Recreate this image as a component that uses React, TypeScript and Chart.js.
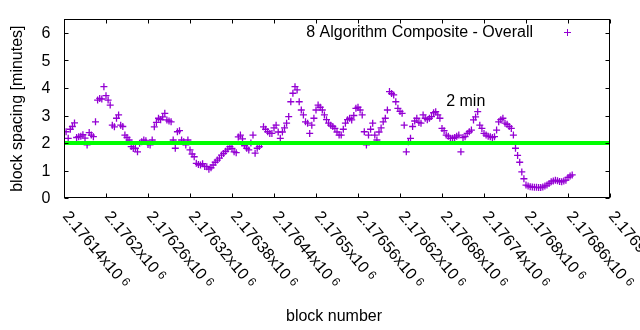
import React, { useEffect, useRef } from "react";
import { Chart, registerables } from "chart.js";

Chart.register(...registerables);

// ---- data ----
const firstBlock = 2176143;
const blockStep = 3;
const spacingMinutes = [
  2.41, 2.17, 2.5, 2.6, 2.73, 2.2, 2.23, 2.25, 2.3, 2.18,
  1.93, 2.38, 2.29, 2.23, 2.77, 3.56, 3.62, 3.6, 4.05, 3.72,
  3.56, 3.38, 2.65, 2.59, 2.9, 3.02, 2.65, 2.6, 2.29, 2.2,
  2.11, 1.87, 1.8, 1.81, 1.68, 1.99, 2.05, 2.11, 2.08, 1.95,
  1.93, 2.11, 2.59, 2.75, 2.9, 2.85, 2.95, 3.08, 2.84, 2.8,
  2.77, 2.11, 1.81, 2.41, 2.45, 2.11, 2.05, 1.93, 2.11, 1.75,
  1.6, 1.5, 1.26, 1.22, 1.2, 1.25, 1.15, 1.14, 1.05, 1.1,
  1.2, 1.3, 1.38, 1.45, 1.56, 1.62, 1.7, 1.78, 1.87, 1.8,
  1.68, 1.65, 2.22, 2.29, 2.15, 1.9, 1.81, 1.75, 2.0, 2.29,
  1.63, 1.81, 1.87, 1.95, 2.59, 2.5, 2.41, 2.35, 2.35, 2.55,
  2.65, 2.4, 2.17, 2.4, 2.55, 2.72, 2.96, 3.5, 3.81, 4.05,
  3.93, 3.5, 3.2, 3.02, 2.77, 2.72, 2.35, 2.65, 2.9, 3.2,
  3.38, 3.3, 3.2, 3.02, 2.85, 2.72, 2.65, 2.6, 2.53, 2.4,
  2.29, 2.29, 2.5, 2.72, 2.85, 2.9, 2.84, 3.0, 3.26, 3.3,
  3.2, 3.02, 2.41, 1.93, 2.29, 2.5, 2.72, 2.29, 2.11, 2.4,
  2.55, 2.77, 2.9, 3.2, 3.87, 3.8, 3.75, 3.5, 3.26, 3.15,
  3.08, 2.65, 1.68, 2.05, 2.17, 2.6, 2.8, 2.9, 2.75, 2.72,
  3.02, 2.9, 2.85, 2.9, 2.96, 3.1, 3.14, 3.02, 2.9, 2.53,
  2.45, 2.29, 2.25, 2.17, 2.17, 2.2, 2.25, 2.29, 1.68, 2.2,
  2.23, 2.35, 2.41, 2.47, 2.84, 2.95, 3.14, 2.65, 2.53, 2.35,
  2.29, 2.25, 2.23, 2.2, 2.23, 2.47, 2.77, 2.85, 2.9, 2.72,
  2.68, 2.6, 2.53, 2.29, 1.81, 1.55, 1.3, 0.95, 0.7, 0.47,
  0.44, 0.41, 0.4, 0.39, 0.39, 0.38, 0.38, 0.4, 0.44, 0.47,
  0.53, 0.59, 0.62, 0.65, 0.63, 0.6, 0.59, 0.62, 0.65, 0.75,
  0.8, 0.84,
];

const xMin = 2176140;
const xMax = 2176920;
const xTickValues = [
  2176140, 2176200, 2176260, 2176320, 2176380, 2176440, 2176500,
  2176560, 2176620, 2176680, 2176740, 2176800, 2176860, 2176920,
];
const xTickMantissas = [
  "2.17614", "2.1762", "2.17626", "2.17632", "2.17638", "2.17644", "2.1765",
  "2.17656", "2.17662", "2.17668", "2.17674", "2.1768", "2.17686", "2.17692",
];
const xTickExponent = "6";
const yMin = 0;
const yMax = 6.5;
const yTickValues = [0, 1, 2, 3, 4, 5, 6];
const targetMinutes = 2;
const seriesLabel = "8 Algorithm Composite - Overall";
const targetLabel = "2 min";
const targetLabelBlock = 2176686;
const targetLabelValue = 3.5;
const xTitle = "block number";
const yTitle = "block spacing [minutes]";

// ---- styles ----
const PURPLE = "#9400d3";
const GREEN = "#00ff00";
const FONT_FAMILY = '"Liberation Sans", Arial, sans-serif';
const FONT = `16px ${FONT_FAMILY}`;
const FONT_SUP = `12px ${FONT_FAMILY}`;

const gnuplotFrame = {
  id: "gnuplotFrame",
  beforeDraw(chart: any) {
    const { ctx, width, height } = chart;
    ctx.save();
    ctx.fillStyle = "#ffffff";
    ctx.fillRect(0, 0, width, height);
    ctx.restore();
  },
  afterDraw(chart: any) {
    const { ctx, chartArea: a } = chart;
    const xs = chart.scales.x;
    const ys = chart.scales.y;
    const L = Math.floor(a.left) + 0.5;
    const R = Math.ceil(a.right) - 0.5;
    const T = Math.floor(a.top) + 0.5;
    const B = Math.ceil(a.bottom) - 0.5;
    const tick = 4;

    ctx.save();
    ctx.strokeStyle = "#000";
    ctx.lineWidth = 1;
    ctx.strokeRect(L, T, R - L, B - T);

    ctx.beginPath();
    yTickValues.forEach((v) => {
      const py = Math.round(ys.getPixelForValue(v)) + 0.5;
      ctx.moveTo(L, py);
      ctx.lineTo(L + tick, py);
      ctx.moveTo(R, py);
      ctx.lineTo(R - tick, py);
    });
    xTickValues.forEach((v) => {
      const px = Math.round(xs.getPixelForValue(v)) + 0.5;
      ctx.moveTo(px, B);
      ctx.lineTo(px, B - tick);
      ctx.moveTo(px, T);
      ctx.lineTo(px, T + tick);
    });
    ctx.stroke();

    ctx.fillStyle = "#000";
    ctx.font = FONT;
    ctx.textAlign = "right";
    ctx.textBaseline = "middle";
    yTickValues.forEach((v) => {
      ctx.fillText(String(v), L - 14, ys.getPixelForValue(v) + 1);
    });

    const rad = (50 * Math.PI) / 180;
    xTickValues.forEach((v, i) => {
      const px = xs.getPixelForValue(v);
      ctx.save();
      ctx.translate(px - 2, B + 19);
      ctx.rotate(rad);
      ctx.font = FONT;
      ctx.textAlign = "left";
      ctx.textBaseline = "alphabetic";
      const main = xTickMantissas[i] + "x10";
      ctx.fillText(main, 0, 0);
      const w = ctx.measureText(main).width;
      ctx.font = FONT_SUP;
      ctx.fillText(xTickExponent, w + 4, -3);
      ctx.restore();
    });

    // axis titles
    ctx.font = FONT;
    ctx.textAlign = "center";
    ctx.textBaseline = "alphabetic";
    ctx.fillText(xTitle, (a.left + a.right) / 2 - 3, 321);
    ctx.save();
    ctx.translate(22, (a.top + a.bottom) / 2);
    ctx.rotate(-Math.PI / 2);
    ctx.fillText(yTitle, 0, 0);
    ctx.restore();

    // legend
    ctx.textAlign = "right";
    ctx.textBaseline = "alphabetic";
    ctx.fillText(seriesLabel, 533, 37);
    ctx.strokeStyle = PURPLE;
    ctx.beginPath();
    ctx.moveTo(567.5 - 3.5, 32.5);
    ctx.lineTo(567.5 + 3.5, 32.5);
    ctx.moveTo(567.5, 32.5 - 3.5);
    ctx.lineTo(567.5, 32.5 + 3.5);
    ctx.stroke();

    // "2 min" label
    ctx.fillStyle = "#000";
    ctx.textAlign = "left";
    ctx.textBaseline = "middle";
    ctx.fillText(
      targetLabel,
      xs.getPixelForValue(targetLabelBlock),
      ys.getPixelForValue(targetLabelValue)
    );
    ctx.restore();
  },
};

export default function App() {
  const canvasRef = useRef<HTMLCanvasElement | null>(null);

  useEffect(() => {
    document.body.style.margin = "0";
    const canvas = canvasRef.current;
    if (!canvas) return;
    const points = spacingMinutes.map((v, i) => ({ x: firstBlock + i * blockStep, y: v }));
    const chart = new Chart(canvas, {
      type: "scatter",
      data: {
        datasets: [
          {
            label: "2 min",
            data: [
              { x: xMin, y: targetMinutes },
              { x: xMax, y: targetMinutes },
            ],
            showLine: true,
            borderColor: GREEN,
            backgroundColor: GREEN,
            borderWidth: 4,
            pointRadius: 0,
            order: 0,
          },
          {
            label: seriesLabel,
            data: points,
            pointStyle: "cross",
            pointRadius: 3.5,
            pointBorderWidth: 1.3,
            borderColor: PURPLE,
            backgroundColor: PURPLE,
            showLine: false,
            order: 1,
          },
        ],
      },
      options: {
        responsive: false,
        animation: false,
        events: [],
        layout: { padding: { left: 64, right: 30, top: 19.25, bottom: 132 } },
        plugins: {
          legend: { display: false },
          tooltip: { enabled: false },
          title: { display: false },
        },
        scales: {
          x: { type: "linear", min: xMin, max: xMax, display: false },
          y: { type: "linear", min: yMin, max: yMax, display: false },
        },
      },
      plugins: [gnuplotFrame],
    });
    return () => chart.destroy();
  }, []);

  return (
    <div style={{ width: 640, height: 330 }}>
      <canvas ref={canvasRef} width={640} height={330} style={{ display: "block", width: 640, height: 330 }} />
    </div>
  );
}
